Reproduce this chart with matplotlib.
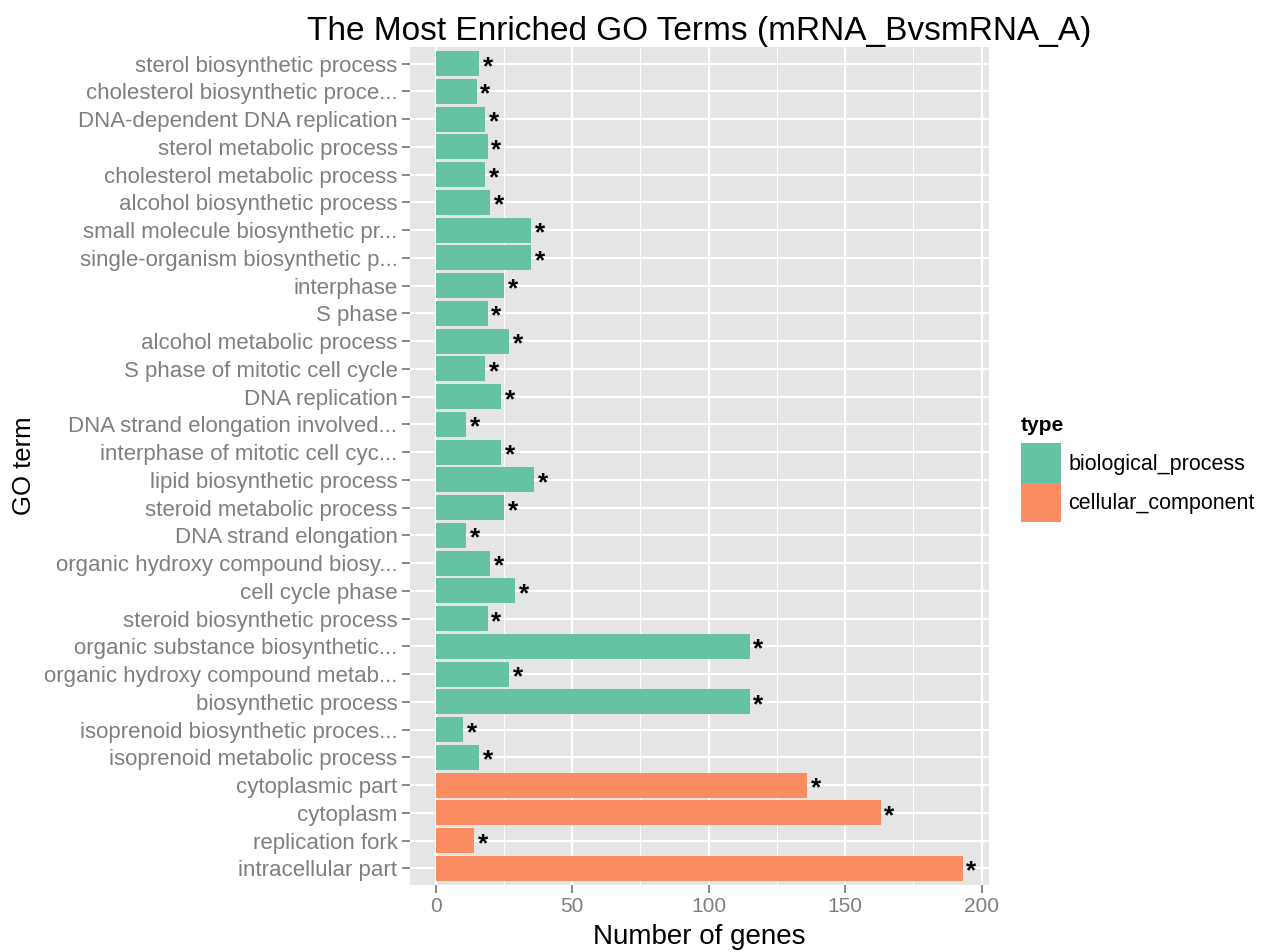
import matplotlib
matplotlib.use("Agg")
import matplotlib.pyplot as plt
from matplotlib.patches import Patch

plt.rcParams['font.family'] = ['Liberation Sans', 'DejaVu Sans']

terms = [
    "sterol biosynthetic process",
    "cholesterol biosynthetic proce...",
    "DNA-dependent DNA replication",
    "sterol metabolic process",
    "cholesterol metabolic process",
    "alcohol biosynthetic process",
    "small molecule biosynthetic pr...",
    "single-organism biosynthetic p...",
    "interphase",
    "S phase",
    "alcohol metabolic process",
    "S phase of mitotic cell cycle",
    "DNA replication",
    "DNA strand elongation involved...",
    "interphase of mitotic cell cyc...",
    "lipid biosynthetic process",
    "steroid metabolic process",
    "DNA strand elongation",
    "organic hydroxy compound biosy...",
    "cell cycle phase",
    "steroid biosynthetic process",
    "organic substance biosynthetic...",
    "organic hydroxy compound metab...",
    "biosynthetic process",
    "isoprenoid biosynthetic proces...",
    "isoprenoid metabolic process",
    "cytoplasmic part",
    "cytoplasm",
    "replication fork",
    "intracellular part",
]
counts = [16, 15, 18, 19, 18, 20, 35, 35, 25, 19, 27, 18, 24, 11, 24, 36, 25, 11,
          20, 29, 19, 115, 27, 115, 10, 16, 136, 163, 14, 193]
types = ["biological_process"] * 26 + ["cellular_component"] * 4
type_names = ["biological_process", "cellular_component"]
type_colors = {"biological_process": "#66c2a5", "cellular_component": "#fc8d62"}
xticks = [0, 50, 100, 150, 200]

W, H = 1268, 952
fig = plt.figure(figsize=(W / 100, H / 100), dpi=100)
pl, pr, pt, pb = 410, 989, 47, 885
ax = fig.add_axes([pl / W, 1 - pb / H, (pr - pl) / W, (pb - pt) / H])
ax.set_facecolor("#e5e5e5")

n = len(terms)
ypos = [n - i for i in range(n)]
ax.barh(ypos, counts, height=0.9, color=[type_colors[t] for t in types], zorder=3)
for y, c in zip(ypos, counts):
    ax.text(c + 1.4, y - 0.12, "*", ha="left", va="center", fontsize=19,
            fontweight="bold", color="black", zorder=4)

ax.set_xlim(-9.4, 202.7)
ax.set_ylim(0.4, n + 0.6)
ax.set_xticks(xticks)
ax.set_xticks([25, 75, 125, 175], minor=True)
ax.set_yticks(ypos)
ax.set_yticklabels(terms)
ax.grid(which="major", color="white", linewidth=1.6, zorder=1)
ax.grid(which="minor", axis="x", color="white", linewidth=0.7, zorder=1)
ax.tick_params(axis="both", which="major", length=6, width=1.3, color="#7f7f7f",
               labelcolor="#7f7f7f", pad=3)
ax.tick_params(axis="y", which="major", labelsize=16)
ax.tick_params(axis="x", which="major", labelsize=15)
ax.tick_params(axis="x", which="minor", length=0)
for s in ax.spines.values():
    s.set_visible(False)

ax.set_xlabel("Number of genes", fontsize=20)
ax.xaxis.set_label_coords(0.5, (pb - 924) / (pb - pt))
ax.set_ylabel("GO term", fontsize=18.5)
ax.yaxis.set_label_coords((36 - pl) / (pr - pl), 0.5)
ax.set_title("The Most Enriched GO Terms (mRNA_BvsmRNA_A)", fontsize=24, pad=5)

handles = [Patch(facecolor=type_colors[t], edgecolor="none") for t in type_names]
leg = fig.legend(handles, type_names, title="type", loc="upper left",
                 bbox_to_anchor=(1021 / W, 1 - 416 / H), frameon=False,
                 fontsize=15.5, title_fontsize=15, handlelength=1.86, handleheight=2.45,
                 handletextpad=0.35, labelspacing=0.0, borderaxespad=0, borderpad=0)
leg.get_title().set_fontweight("bold")
leg._legend_box.align = "left"
leg._legend_box.sep = 6

fig.savefig("out.png", dpi=100)
